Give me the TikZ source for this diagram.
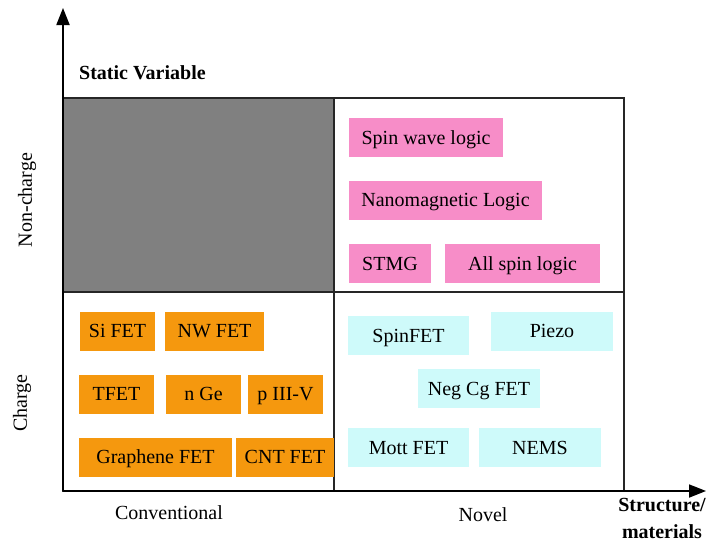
\documentclass[tikz,border=0pt]{standalone}
\usepackage{fontspec}
\setmainfont{Liberation Serif}
\usetikzlibrary{arrows.meta}
\definecolor{spinpink}{RGB}{247,141,200}
\definecolor{fetorange}{RGB}{245,152,14}
\definecolor{novelcyan}{RGB}{206,250,250}
\definecolor{cellgray}{RGB}{128,128,128}
\tikzset{
  lbl/.style={font=\fontsize{20}{24}\selectfont, inner sep=0pt},
  boldlbl/.style={font=\fontsize{20}{27}\selectfont\bfseries, inner sep=0pt},
  devbox/.style={font=\fontsize{20}{24}\selectfont, inner sep=0pt, draw=none,
    minimum height=39pt, text depth=0pt},
  pinkbox/.style={devbox, fill=spinpink},
  orangebox/.style={devbox, fill=fetorange},
  cyanbox/.style={devbox, fill=novelcyan},
  gridline/.style={line width=1.6pt, black!85},
  axisline/.style={line width=1.8pt, -{Triangle[length=17pt,width=13pt]}}
}
\begin{document}
\begin{tikzpicture}[x=1pt,y=-1pt]
\useasboundingbox (0,0) rectangle (706,541);
\fill[white] (0,0) rectangle (706,541);

% quadrant grid
\fill[cellgray] (63,98) rectangle (334,292);
\draw[gridline] (63,98) rectangle (624,491);
\draw[gridline] (334,98) -- (334,491);
\draw[gridline] (63,292) -- (624,292);

% axes
\coordinate (origin) at (63,491);
\coordinate (ytip) at (63,8);
\coordinate (xtip) at (706,491);
\draw[axisline] (origin) -- (ytip);
\draw[axisline] (origin) -- (xtip);

% axis labels
\node[boldlbl, anchor=west] (sv) at (79,73) {Static Variable};
\node[lbl, rotate=90] (nc) at (27,200) {Non-charge};
\node[lbl, rotate=90] (ch) at (22,403) {Charge};
\node[lbl] (conv) at (169,513) {Conventional};
\node[lbl] (nov) at (483,515) {Novel};
\node[boldlbl, align=center] (sm) at (662,518) {Structure/\\materials};

% non-charge, novel
\node[pinkbox, minimum width=154pt] (swl) at (426,137.5) {Spin wave logic};
\node[pinkbox, minimum width=193pt] (nml) at (445.5,200) {Nanomagnetic Logic};
\node[pinkbox, minimum width=82pt] (stmg) at (390,263.5) {STMG};
\node[pinkbox, minimum width=155pt] (asl) at (522.5,263.5) {All spin logic};

% charge, conventional
\node[orangebox, minimum width=75pt] (sifet) at (117.5,331) {Si FET};
\node[orangebox, minimum width=99pt] (nwfet) at (214.5,331) {NW FET};
\node[orangebox, minimum width=75pt] (tfet) at (116.5,394) {TFET};
\node[orangebox, minimum width=75pt] (nge) at (203.5,394) {n Ge};
\node[orangebox, minimum width=75pt] (p35) at (285.5,394) {p III-V};
\node[orangebox, minimum width=153pt] (gfet) at (155.5,457) {Graphene FET};
\node[orangebox, minimum width=98pt] (cnt) at (285,457) {CNT FET};

% charge, novel
\node[cyanbox, minimum width=121pt] (spinfet) at (408.5,335.5) {SpinFET};
\node[cyanbox, minimum width=122pt] (piezo) at (552,331) {Piezo};
\node[cyanbox, minimum width=122pt] (negcg) at (479,388.5) {Neg Cg FET};
\node[cyanbox, minimum width=121pt] (mott) at (408.5,447.5) {Mott FET};
\node[cyanbox, minimum width=122pt] (nems) at (540,447.5) {NEMS};
\end{tikzpicture}
\end{document}
